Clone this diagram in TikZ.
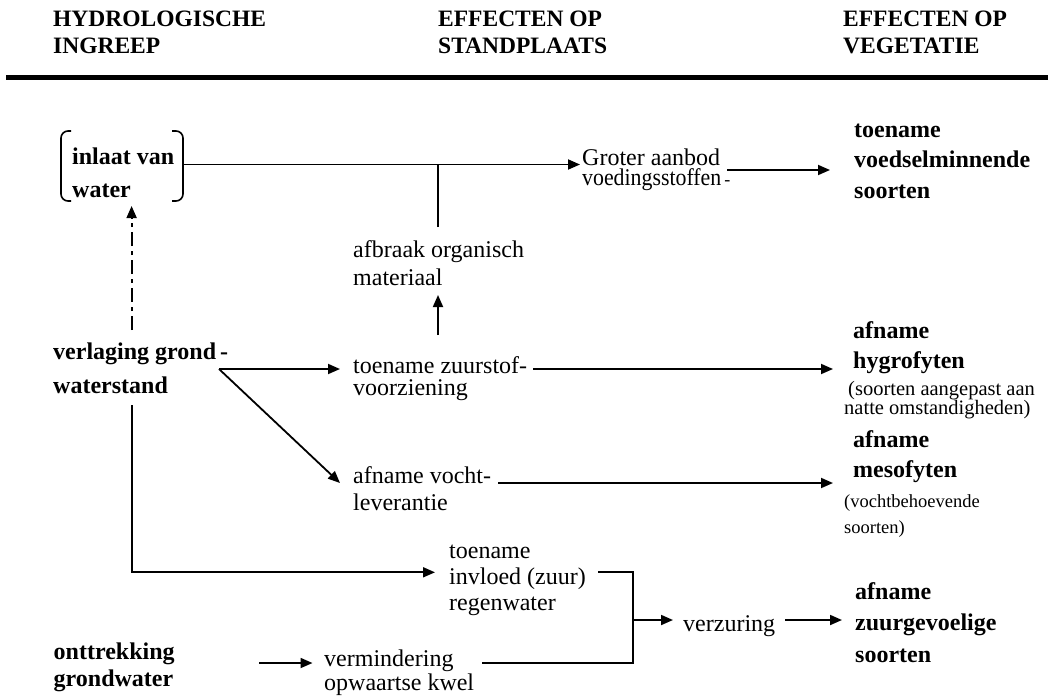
\documentclass[tikz,border=0pt]{standalone}
\usepackage{fontspec}
\setmainfont{Liberation Serif}
\usetikzlibrary{arrows.meta}

% stacked lines with a fixed baseline distance; the first line carries the baseline
\newcommand\mlines[2]{\vtop{\baselineskip=#1\lineskiplimit=-100pt\lineskip=0pt\relax #2}}

\tikzset{
  txt/.style={anchor=base west, inner sep=0pt, font=\fontsize{24}{24}\selectfont},
  bld/.style={anchor=base west, inner sep=0pt, font=\fontsize{24}{24}\selectfont\bfseries},
  hdr/.style={anchor=base west, inner sep=0pt, font=\fontsize{23.5}{23.5}\selectfont\bfseries},
  noteA/.style={anchor=base west, inner sep=0pt, font=\fontsize{20.5}{20.5}\selectfont},
  noteB/.style={anchor=base west, inner sep=0pt, font=\fontsize{18.5}{18.5}\selectfont},
  conn/.style={line width=1.8pt},
  arr/.style={conn, -{Triangle[length=12pt,width=10pt]}},
  dashdot/.style={arr, dash pattern=on 14pt off 5pt on 4pt off 5pt},
  brace/.style={line width=1.6pt, rounded corners=7pt},
}

\begin{document}
\begin{tikzpicture}[x=1pt, y=-1pt]
  \fill[white] (0,0) rectangle (1048,696);
  \useasboundingbox (0,0) rectangle (1048,696);

  % column headings and rule
  \node[hdr] (h1) at (53,27) {\mlines{27pt}{\hbox{HYDROLOGISCHE}\hbox{INGREEP}}};
  \node[hdr] (h2) at (438,27) {\mlines{27pt}{\hbox{EFFECTEN OP}\hbox{STANDPLAATS}}};
  \node[hdr] (h3) at (843,27) {\mlines{27pt}{\hbox{EFFECTEN OP}\hbox{VEGETATIE}}};
  \draw[line width=5pt] (6,77.5) -- (1048,77.5);

  % hydrological interventions
  \node[bld] (inlaat) at (72,164) {\mlines{33pt}{\hbox{inlaat van}\hbox{water}}};
  \draw[brace] (71,131) -| (61,201) -- (71,201);
  \draw[brace] (172,131) -| (183,201) -- (172,201);
  \node[bld] (verlaging) at (53,359) {\mlines{34pt}{\hbox{verlaging grond\,-}\hbox{waterstand}}};
  \node[bld] (onttrek) at (53.5,659) {\mlines{27pt}{\hbox{onttrekking}\hbox{grondwater}}};

  % effects on the site
  \node[txt] (groter) at (582,165) {\mlines{20.5pt}{\hbox{Groter aanbod}\hbox{\scalebox{0.91}[1]{voedingsstoffen}\hspace{3pt}{\fontsize{18}{18}\selectfont -}}}};
  \node[txt] (afbraak) at (353,257) {\mlines{28pt}{\hbox{afbraak organisch}\hbox{materiaal}}};
  \node[txt] (zuurstof) at (353,373) {\mlines{22pt}{\hbox{toename zuurstof-}\hbox{voorziening}}};
  \node[txt] (vocht) at (353,483) {\mlines{27pt}{\hbox{afname vocht-}\hbox{leverantie}}};
  \node[txt] (regen) at (449,558) {\mlines{26pt}{\hbox{toename}\hbox{invloed (zuur)}\hbox{regenwater}}};
  \node[txt] (verzuring) at (683,631.7) {verzuring};
  \node[txt] (kwel) at (324,666) {\mlines{24pt}{\hbox{vermindering}\hbox{opwaartse kwel}}};

  % effects on the vegetation
  \node[bld] (voedsel) at (854,137) {\mlines{30.5pt}{\hbox{toename}\hbox{voedselminnende}\hbox{soorten}}};
  \node[bld] (hygro) at (853,338) {\mlines{30pt}{\hbox{afname}\hbox{hygrofyten}}};
  \node[noteA] (hygronote) at (844,395.5) {\mlines{18.5pt}{\hbox{\hspace{4pt}(soorten aangepast aan}\hbox{natte omstandigheden)}}};
  \node[bld] (meso) at (853,447) {\mlines{30pt}{\hbox{afname}\hbox{mesofyten}}};
  \node[noteB] (mesonote) at (844,507) {\mlines{26pt}{\hbox{(vochtbehoevende}\hbox{soorten)}}};
  \node[bld] (zuurgev) at (855,599) {\mlines{31.5pt}{\hbox{afname}\hbox{zuurgevoelige}\hbox{soorten}}};

  % connector end points
  \coordinate (inlaatR) at (184,164.5);
  \coordinate (groterL) at (580,164.5);
  \coordinate (tee) at (438,164.5);
  \coordinate (afbraakTop) at (438,227);
  \coordinate (afbraakBot) at (438,295);
  \coordinate (zuurstofTop) at (438,335);
  \coordinate (groterR) at (727,170);
  \coordinate (voedselL) at (830,170);
  \coordinate (verlR) at (219,369);
  \coordinate (zuurstofL) at (340,369);
  \coordinate (vochtL) at (340,483);
  \coordinate (zuurstofR) at (533,369);
  \coordinate (hygroL) at (833,369);
  \coordinate (vochtR) at (498,483);
  \coordinate (mesoL) at (833,483);
  \coordinate (verlTop) at (131.6,330);
  \coordinate (inlaatBot) at (131.6,206);
  \coordinate (verlBot) at (131.6,405);
  \coordinate (regenL) at (435,572.3);
  \coordinate (regenR) at (598,572.3);
  \coordinate (kwelR) at (482,663);
  \coordinate (joinX) at (633,620);
  \coordinate (verzuringL) at (673,620);
  \coordinate (verzuringR) at (785,620);
  \coordinate (zuurgevL) at (842,620);
  \coordinate (onttrekR) at (259,663);
  \coordinate (kwelL) at (312.5,663);

  % connectors
  \draw[arr] (inlaatR) -- (groterL);
  \draw[conn] (afbraakTop) -- (tee);
  \draw[arr] (zuurstofTop) -- (afbraakBot);
  \draw[arr] (groterR) -- (voedselL);
  \draw[arr] (verlR) -- (zuurstofL);
  \draw[arr] (verlR) -- (vochtL);
  \draw[arr] (zuurstofR) -- (hygroL);
  \draw[arr] (vochtR) -- (mesoL);
  \draw[dashdot] (verlTop) -- (inlaatBot);
  \draw[arr] (verlBot) |- (regenL);
  \draw[conn] (regenR) -| (joinX) |- (kwelR);
  \draw[arr] (joinX) -- (verzuringL);
  \draw[arr] (verzuringR) -- (zuurgevL);
  \draw[arr] (onttrekR) -- (kwelL);
\end{tikzpicture}
\end{document}
